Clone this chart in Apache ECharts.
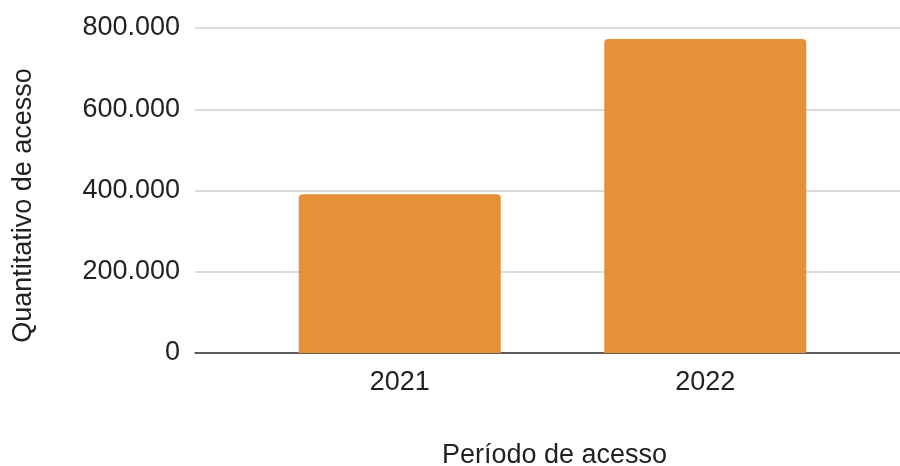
<!DOCTYPE html>
<html>
<head>
<meta charset="utf-8">
<script src="https://cdn.jsdelivr.net/npm/echarts@6/dist/echarts.min.js"></script>
<style>
  html, body { margin: 0; padding: 0; background: #fff; }
  #chart { width: 900px; height: 466px; }
</style>
</head>
<body>
<div id="chart"></div>
<script>
const categories = ['2021', '2022']
const acessos = [391000, 773000]
const yTicks = [0, 200000, 400000, 600000, 800000]

const font = '"Liberation Sans", Arial, sans-serif'
const fmt = v => v === 0 ? '0' : String(v).replace(/\B(?=(\d{3})+(?!\d))/g, '.')

const chart = echarts.init(document.getElementById('chart'))
chart.setOption({
  animation: false,
  textStyle: { fontFamily: font },
  grid: [
    // full-width grid: gridlines, baseline, titles
    { left: 195, right: 0, top: 28, bottom: 113, outerBoundsMode: 'none' },
    // narrower grid for the bars
    { left: 247, right: 42, top: 28, bottom: 113, outerBoundsMode: 'none' }
  ],
  xAxis: [
    {
      gridIndex: 0,
      type: 'value',
      min: 0,
      max: 1,
      axisLine: { show: true, lineStyle: { color: '#333', width: 1.5 } },
      axisTick: { show: false },
      axisLabel: { show: false },
      splitLine: { show: false },
      name: 'Período de acesso',
      nameLocation: 'middle',
      nameGap: 89,
      nameTextStyle: { color: '#222', fontSize: 27, fontFamily: font, padding: [0, 0, 0, 14] }
    },
    {
      gridIndex: 1,
      type: 'category',
      data: categories,
      axisLine: { show: false },
      axisTick: { show: false },
      axisLabel: { color: '#222', fontSize: 27, margin: 16, fontFamily: font }
    }
  ],
  yAxis: [
    {
      gridIndex: 0,
      type: 'value',
      min: yTicks[0],
      max: yTicks[yTicks.length - 1],
      interval: yTicks[1] - yTicks[0],
      axisLine: { show: false },
      axisTick: { show: false },
      axisLabel: { color: '#222', fontSize: 27, margin: 15, formatter: fmt, fontFamily: font },
      splitLine: { lineStyle: { color: '#d0d0d0', width: 1.5 } },
      name: 'Quantitativo de acesso',
      nameLocation: 'middle',
      nameGap: 158,
      nameTextStyle: { color: '#222', fontSize: 27, fontFamily: font, padding: [0, 30, 0, 0] }
    },
    {
      gridIndex: 1,
      type: 'value',
      min: yTicks[0],
      max: yTicks[yTicks.length - 1],
      show: false
    }
  ],
  series: [
    {
      type: 'bar',
      xAxisIndex: 1,
      yAxisIndex: 1,
      data: acessos,
      barWidth: 202,
      itemStyle: { color: '#e69138', borderRadius: [4, 4, 0, 0] }
    }
  ]
})
</script>
</body>
</html>
